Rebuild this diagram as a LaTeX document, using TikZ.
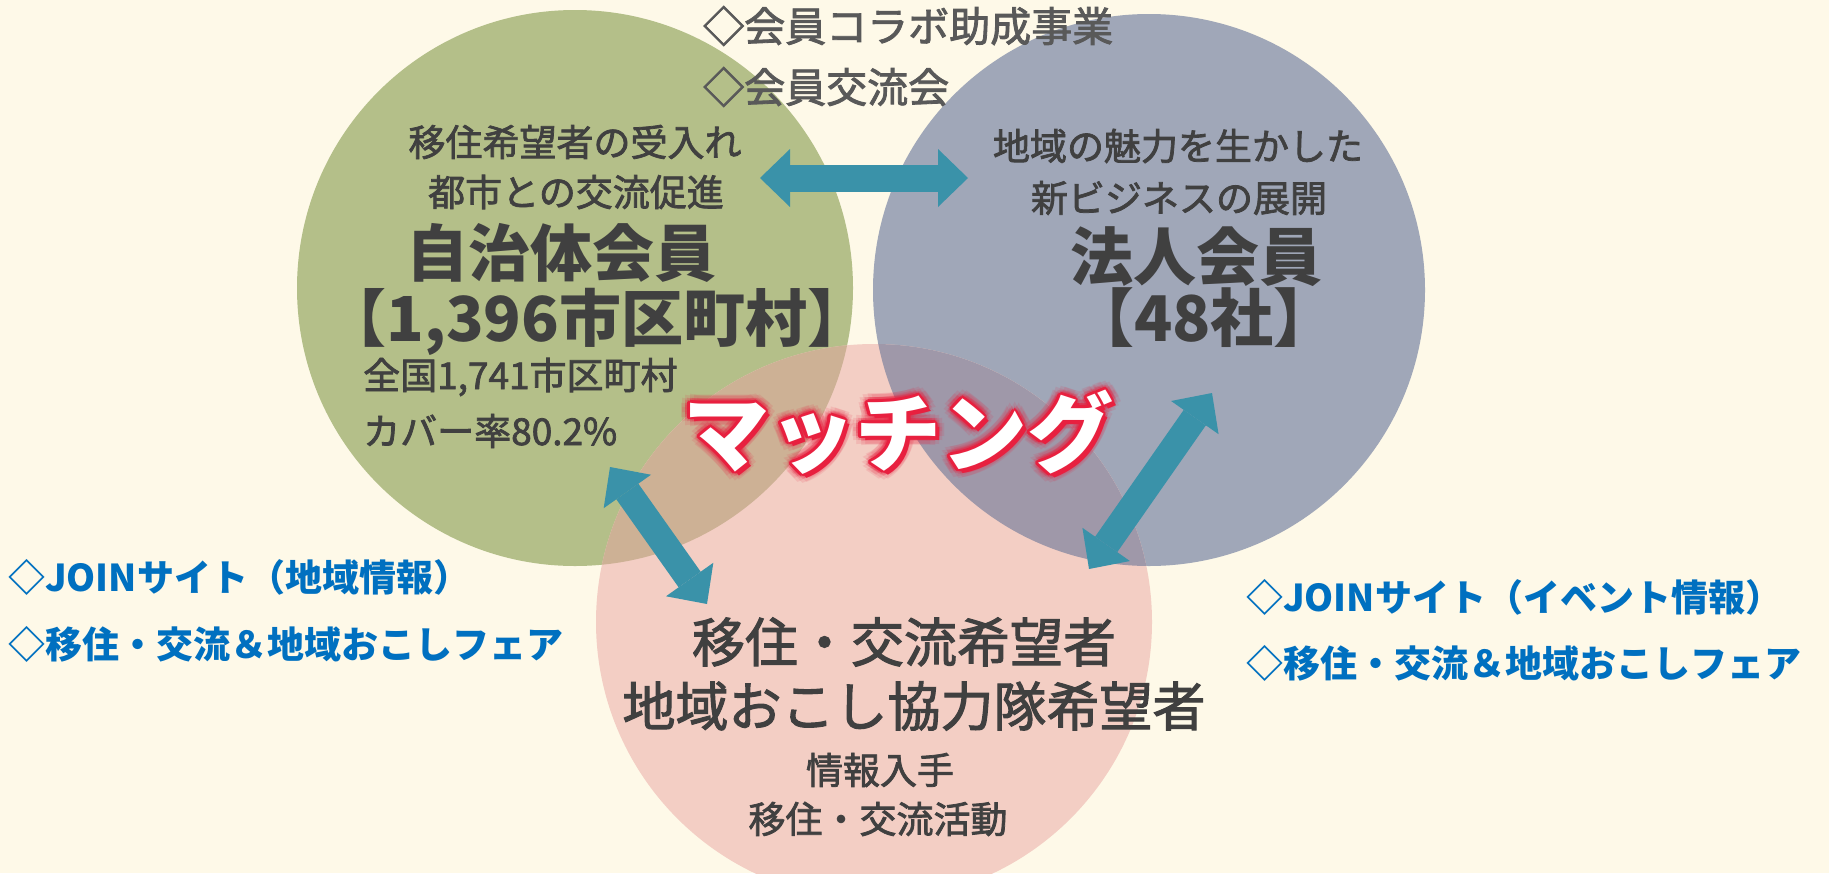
\documentclass[tikz,border=0pt]{standalone}
\usepackage{fontspec}
\usetikzlibrary{arrows.meta}
\newfontfamily\jp{Noto Sans CJK JP}
\newfontfamily\jpm{Noto Sans CJK JP}[FakeBold=2]
\definecolor{bg}{HTML}{FEF9E8}
\definecolor{cgreen}{HTML}{B4BF89}
\definecolor{cblue}{HTML}{A0A7B8}
\definecolor{cpink}{HTML}{F3CEC4}
\definecolor{cgp}{HTML}{CDB195}
\definecolor{cbp}{HTML}{9F98A9}
\definecolor{carrow}{HTML}{3A92A9}
\definecolor{dark}{HTML}{404040}
\definecolor{grayt}{HTML}{595959}
\definecolor{jblue}{HTML}{0070C0}
\definecolor{mred}{HTML}{E8203F}
\begin{document}
\begin{tikzpicture}[x=1pt,y=-1pt,
  txt/.style={inner sep=0pt, text=dark},
  fs/.style={font=\jpm\fontsize{#1}{#1}\selectfont},
  fsb/.style={font=\jp\bfseries\fontsize{#1}{#1}\selectfont},
  bluet/.style={inner sep=0pt, text=jblue, anchor=west, fsb=37},
  glow/.style={inner sep=0pt, fsb=86, text=mred},
  dblarrow/.style={draw=carrow, line width=27pt,
    {Triangle[length=30pt,width=58pt,line width=0pt]}-{Triangle[length=30pt,width=58pt,line width=0pt]}},
]
\fill[bg] (0,0) rectangle (1829,873);
\useasboundingbox (0,0) rectangle (1829,873);
\clip (0,0) rectangle (1829,873);

% circles
\fill[cgreen] (575,288) circle[radius=278];
\fill[cblue] (1149,290) circle[radius=276];
\fill[cpink] (874,622) circle[radius=278];
\begin{scope}
  \clip (874,622) circle[radius=278];
  \fill[cgp] (575,288) circle[radius=278];
  \fill[cbp] (1149,290) circle[radius=276];
\end{scope}

% arrows
\coordinate (h1) at (760,178);
\coordinate (h2) at (968,178);
\coordinate (l1) at (610,467);
\coordinate (l2) at (707,604);
\coordinate (r1) at (1212,393);
\coordinate (r2) at (1089,569);
\draw[dblarrow] (h1) -- (h2);
\draw[dblarrow] (l1) -- (l2);
\draw[dblarrow] (r1) -- (r2);

% top texts
\node[txt, fs=41, text=grayt, anchor=west] (top1) at (703,26) {◇会員コラボ助成事業};
\node[txt, fs=41, text=grayt, anchor=west] (top2) at (703,87) {◇会員交流会};

% left circle
\node[txt, fs=37] (g1) at (575,142) {移住希望者の受入れ};
\node[txt, fs=37] (g2) at (576,192) {都市との交流促進};
\node[txt, fsb=62] (g3) at (561,253) {自治体会員};
\node[txt, fsb=62] (g4) at (597,322) {【1,396市区町村】};
\node[txt, fs=37, anchor=west] (g5) at (363,377) {全国1,741市区町村};
\node[txt, fs=37, anchor=west] (g6) at (363,431) {カバー率80.2\%};

% right circle
\node[txt, fs=37] (b1) at (1178,146) {地域の魅力を生かした};
\node[txt, fs=37] (b2) at (1179,198) {新ビジネスの展開};
\node[txt, fsb=63] (b3) at (1196,257) {法人会員};
\node[txt, fsb=63] (b4) at (1204,318) {【48社】};

% bottom circle
\node[txt, fs=53] (p1) at (904,642) {移住・交流希望者};
\node[txt, fs=53] (p2) at (914,706) {地域おこし協力隊希望者};
\node[txt, fs=37] (p3) at (880,770) {情報入手};
\node[txt, fs=37] (p4) at (878,819) {移住・交流活動};

% blue side texts
\node[bluet] (jl1) at (8,577) {◇JOINサイト（地域情報）};
\node[bluet] (jl2) at (8,644) {◇移住・交流＆地域おこしフェア};
\node[bluet] (jr1) at (1246,597) {◇JOINサイト（イベント情報）};
\node[bluet] (jr2) at (1246,663) {◇移住・交流＆地域おこしフェア};

% matching (glow, outline, shadow, white text)
\foreach \a [count=\i] in {0,30,...,330} {
  \path (898,432) ++(\a:9) node[glow, opacity=0.12] (mga\i) {マッチング};
  \path (898,432) ++(\a:5) node[glow, opacity=0.2] (mgb\i) {マッチング};
  \path (898,432) ++(\a:2.5) node[glow] (mgc\i) {マッチング};
}
\node[glow] (mshadow) at (902,436) {マッチング};
\node[glow, text=white] (match) at (898,432) {マッチング};
\end{tikzpicture}
\end{document}
